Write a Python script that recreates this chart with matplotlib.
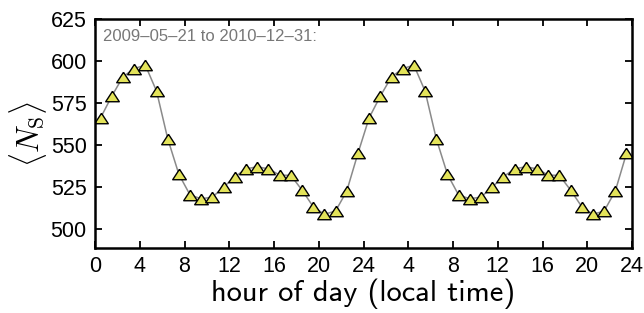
import numpy as np
import matplotlib
matplotlib.use("Agg")
import matplotlib.pyplot as plt

# mean N_S per local hour (bin centres); same day shown twice
hours = np.arange(0.5, 24, 1.0)
ns_day = [566.3, 579.2, 590.7, 595.6, 597.6, 582.2, 553.9, 532.7, 520.4, 518.2,
          519.2, 525.2, 531.3, 536.0, 537.2, 536.0, 532.3, 532.1, 523.4, 513.5,
          509.0, 510.9, 522.8, 545.2]
xticks = np.arange(0, 49, 4)
xticklabels = ["0", "4", "8", "12", "16", "20", "24", "4", "8", "12", "16", "20", "24"]
yticks = [500, 525, 550, 575, 600, 625]

x = np.concatenate([hours, hours + 24])
y = np.concatenate([ns_day, ns_day])

plt.rcParams["mathtext.fontset"] = "cm"

fig = plt.figure(figsize=(6.44, 3.13), dpi=100)
ax = fig.add_axes([0.1475, 0.208, 0.834, 0.731])

tri = [(0, 0.77), (-1, -0.77), (1, -0.77), (0, 0.77)]
ax.plot(x, y, color="#8a8a8a", lw=1.1, zorder=1)
ax.plot(x, y, ls="none", marker=tri, ms=9.8, mfc="#e3e35a", mec="black",
        mew=1.0, zorder=2)

ax.set_xlim(0, 48)
ax.set_ylim(489, 625)
ax.set_xticks(xticks)
ax.set_xticklabels(xticklabels)
ax.set_yticks(yticks)
ax.tick_params(direction="in", top=True, right=True, length=5, width=1.3,
               labelsize=15.5, pad=6)
for lab in ax.get_xticklabels() + ax.get_yticklabels():
    lab.set_fontfamily("Liberation Sans")
for s in ax.spines.values():
    s.set_linewidth(1.8)

ax.set_xlabel("hour of day (local time)", fontsize=22, fontfamily="cmss10",
              labelpad=1)
ax.set_ylabel(r"$\langle N_\mathrm{S}\rangle$", fontsize=22, labelpad=1)

ax.text(0.015, 0.925, "2009\u201305\u201321 to 2010\u201312\u201331:",
        transform=ax.transAxes, fontsize=12, color="#777777",
        fontfamily="Liberation Sans", va="center", ha="left")

fig.savefig("out.png", dpi=100)
